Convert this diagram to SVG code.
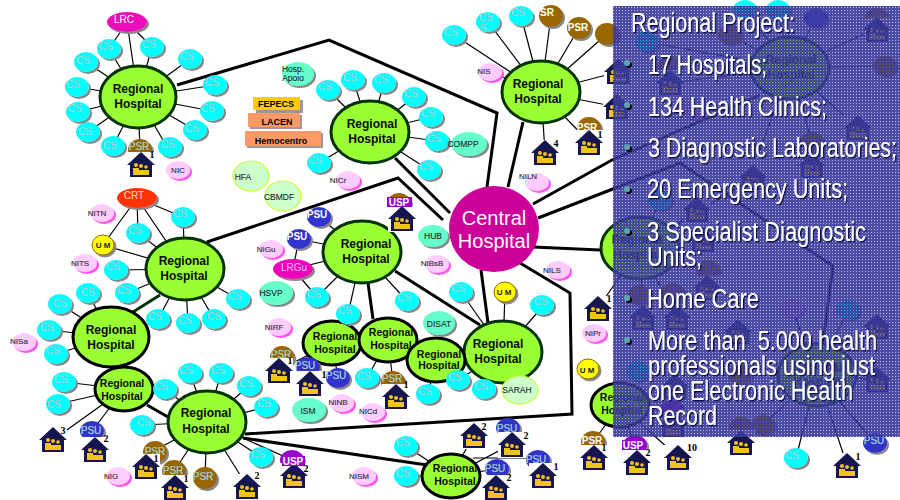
<svg xmlns="http://www.w3.org/2000/svg" width="900" height="500" viewBox="0 0 900 500">
<style>
text{font-family:"Liberation Sans",Arial,sans-serif;text-anchor:middle}
.th{fill:none;stroke:#000;stroke-width:3;stroke-linejoin:miter}
.tn{fill:none;stroke:#000;stroke-width:1.2}
.hub{fill:#99ff33;stroke:#063306;stroke-width:3}
.hubk{fill:#99ff33;stroke:#000;stroke-width:3}
.ht{font-weight:700;font-size:12px;fill:#0a0a0a}
.hs{font-weight:700;font-size:10.5px;fill:#0a0a0a}
.cs{fill:#00ffff;filter:url(#sh)}
.psu{fill:#3333cc;filter:url(#sh)}
.psr{fill:#996600;filter:url(#sh)}
.usp{fill:#9900cc;filter:url(#sh)}
.uspb{fill:#996600;filter:url(#sh)}
.lt{font-size:10px;fill:#c4f4f4;stroke:#6f9f9f;stroke-width:.25}
.wb{font-size:10px;font-weight:700;fill:#fff}
.ni{fill:#ffccff;filter:url(#shm)}
.nt{font-size:8px;fill:#333;stroke:#333;stroke-width:.15}
.te{fill:#66ffcc;filter:url(#sh)}
.tt{font-size:8.5px;fill:#223;stroke:#223;stroke-width:.1}
.gr{fill:#ccffcc;stroke:#ccff33;stroke-width:1.2}
.um{fill:#ffff00;stroke:#996600;stroke-width:1;filter:url(#sh)}
.umt{font-size:8px;font-weight:700;fill:#222}
.rt{font-size:9px;font-weight:700;fill:#000}
.num{font-family:"Liberation Serif",serif;font-size:10px;font-weight:700;fill:#000}
.pt{font-size:27px;fill:#fff;filter:url(#ps);text-anchor:start}
.bu{fill:#5aa6b0;filter:url(#pb)}
</style>
<defs>
<filter id="sh" x="-20%" y="-20%" width="150%" height="150%"><feDropShadow dx="2" dy="2" stdDeviation=".6" flood-color="#888"/></filter>
<filter id="shm" x="-20%" y="-20%" width="150%" height="150%"><feDropShadow dx="2" dy="2" stdDeviation=".2" flood-color="#ff55ee"/></filter>
<filter id="ps" x="-5%" y="-10%" width="115%" height="130%"><feDropShadow dx="1.3" dy="1.3" stdDeviation=".4" flood-color="#111144"/></filter>
<filter id="pb" x="-50%" y="-50%" width="250%" height="250%"><feDropShadow dx="2" dy="2" stdDeviation=".3" flood-color="#000"/></filter>
<pattern id="scr" width="3" height="3" patternUnits="userSpaceOnUse"><path d="M0 0H3V3H0ZM1 1V2H2V1Z" fill="#3a3a9c" fill-rule="evenodd"/></pattern>
<g id="house">
<rect x="-14" y="-13" width="28" height="26" fill="#fff"/>
<path d="M0-13L-14 0H-11V12H11V0H14Z" fill="#16164f"/>
<g fill="#f2c21e"><circle cx="-5" cy="0" r="2"/><circle cx="0" cy="1" r="2"/><circle cx="5" cy="2" r="1.8"/><path d="M-8 10V3H-2V5H3V5H8V10Z"/></g>
</g>
</defs>
<rect width="900" height="500" fill="#fff"/>
<g id="connectors">
<path class="th" d="M177 85L329 40L497 113L487 187"/>
<path class="th" d="M395 158L450 213"/>
<path class="th" d="M207 242L398 178L443 220"/>
<path class="th" d="M523 122L508 187"/>
<path class="th" d="M395 271L480 325"/>
<path class="th" d="M481 270L488 323"/>
<path class="th" d="M533 247L600 250"/>
<path class="th" d="M368 283L373 319"/>
<path class="th" d="M520 263L570 293L572 414L245 434"/>
<path class="th" d="M243 438L427 465"/>
<path class="th" d="M533 204L612 160L760 95"/>
<path class="th" d="M538 218L680 163L833 266L822 350"/>
<path class="th" style="stroke:#063306" d="M133 312L160 295"/>
<path class="th" d="M147 405L168 417"/>
<path class="tn" d="M138 97L127 22M127 22L109 49M127 22L152 47M138 97L109 49M138 97L152 47M138 97L190 59M138 97L215 85M138 97L212 111M138 97L195 130M138 97L167 147M138 97L140 150M138 97L113 146M138 97L88 132M138 97L78 112M138 97L77 87M138 97L86 62"/>
<path class="tn" d="M185 269L137 198M137 198L183 217M137 198L103 245M137 198L138 233M185 269L183 217M185 269L138 233M185 269L103 245M185 269L116 270M185 269L127 293M185 269L238 299M185 269L214 319M185 269L188 323M185 269L158 319"/>
<path class="tn" d="M111 337L88 293M111 337L60 304M111 337L49 330M111 337L56 354"/>
<path class="tn" d="M124 389L64 382M124 389L58 404M124 389L53 440M124 389L92 431"/>
<path class="tn" d="M207 422L142 425M207 422L165 389M207 422L190 373M207 422L221 373M207 422L249 386M207 422L266 407M207 422L261 457M207 422L152 452M207 422L174 471M207 422L205 478M207 422L292 460M207 422L247 486"/>
<path class="tn" d="M370 132L328 90M370 132L353 80M370 132L384 83M370 132L414 97M370 132L431 117M370 132L437 141M370 132L429 170M370 132L319 163"/>
<path class="tn" d="M362 252L319 217M362 252L299 239M362 252L293 269M299 239L293 269M293 269L317 297M362 252L317 297M362 252L348 314M362 252L407 301M362 252L402 218"/>
<path class="tn" d="M503 352L461 292M503 352L505 292M503 352L544 305M503 352L458 380M503 352L484 389"/>
<path class="tn" d="M332 343L279 370M332 343L338 378M388 340L367 378M388 340L393 382M436 360L428 394"/>
<path class="tn" d="M451 476L406 446M451 476L474 435M451 476L512 444M473 458H527M451 476L406 476M451 476L497 469"/>
<path class="tn" d="M541 92L454 35M541 92L488 22M541 92L521 16M541 92L551 16M541 92L579 28M541 92L607 34M541 92L490 72M541 92L618 72M541 92L617 107M541 92L545 152M541 92L589 142"/>
<path class="tn" d="M640 248L598 308M640 248L660 200M640 248L697 210M640 248L643 318M640 248L677 318M640 248L753 178M620 405L593 442M620 405L635 445M620 405L678 457"/>
<path class="tn" d="M790 68L745 10M790 68L778 10M790 68L816 18M790 68L877 28M790 68L885 66M790 68L858 128M790 68L812 142M790 68L760 150M790 68L647 42M790 68L730 35M790 68L670 83"/>
<path class="tn" d="M817 375L875 443M817 375L796 458M817 375L847 465M817 375L763 425M763 425L741 442M817 375L792 308M817 375L848 310M817 375L877 380"/>
</g>
<g id="underlay">
<g id="u1"><ellipse class="cs" cx="745" cy="10" rx="12" ry="10"/></g>
<g id="u2"><ellipse class="cs" cx="778" cy="10" rx="12" ry="10"/></g>
<g id="u3"><ellipse class="psu" cx="816" cy="18" rx="12" ry="10"/></g>
<g id="u4"><ellipse class="psr" cx="877" cy="18" rx="12" ry="10"/><use href="#house" x="877" y="30"/></g>
<g id="u5"><ellipse class="psr" cx="885" cy="66" rx="12" ry="10"/></g>
<g id="u6"><use href="#house" x="858" y="128"/></g>
<g id="u7"><ellipse class="psr" cx="812" cy="142" rx="12" ry="10"/><use href="#house" x="812" y="166"/></g>
<g id="u8"><ellipse class="cs" cx="647" cy="42" rx="12" ry="10"/></g>
<g id="u9"><ellipse class="psr" cx="730" cy="35" rx="12" ry="10"/></g>
<g id="u10"><ellipse class="psr" cx="670" cy="66" rx="12" ry="10"/><use href="#house" x="670" y="83"/></g>
<g id="u11"><ellipse class="ni" cx="693" cy="110" rx="12" ry="9"/></g>
<g id="u12"><ellipse class="cs" cx="660" cy="200" rx="12" ry="10"/></g>
<g id="u13"><use href="#house" x="697" y="210"/></g>
<g id="u14"><use href="#house" x="753" y="178"/></g>
<g id="u15"><use href="#house" x="703" y="240"/></g>
<g id="u16"><ellipse class="psr" cx="708" cy="270" rx="12" ry="10"/><use href="#house" x="707" y="288"/></g>
<g id="u17"><ellipse class="psr" cx="673" cy="293" rx="12" ry="10"/><use href="#house" x="677" y="318"/></g>
<g id="u18"><ellipse class="psr" cx="640" cy="295" rx="12" ry="10"/><use href="#house" x="643" y="318"/></g>
<g id="u19"><use href="#house" x="738" y="332"/></g>
<g id="u20"><ellipse class="ni" cx="792" cy="308" rx="12" ry="9"/></g>
<g id="u21"><ellipse class="cs" cx="848" cy="310" rx="12" ry="10"/></g>
<g id="u22"><use href="#house" x="877" y="327"/></g>
<g id="u23"><use href="#house" x="877" y="380"/></g>
<g id="u24"><ellipse class="cs" cx="638" cy="371" rx="12" ry="10"/></g>
<g id="u25"><use href="#house" x="675" y="387"/></g>
<g id="u26"><ellipse class="psr" cx="740" cy="375" rx="12" ry="10"/></g>
<g id="u27"><ellipse class="usp" cx="672" cy="410" rx="12" ry="10"/><use href="#house" x="673" y="425"/></g>
<g id="u28"><ellipse class="psr" cx="763" cy="425" rx="12" ry="10"/></g>
</g>
<g id="hosp1"><ellipse class="hub" cx="138" cy="97" rx="38" ry="31"/><text class="ht" x="138" y="93">Regional</text><text class="ht" x="138" y="108">Hospital</text></g>
<g id="hosp2"><ellipse class="hub" cx="185" cy="269" rx="39" ry="31"/><text class="ht" x="184" y="265">Regional</text><text class="ht" x="184" y="280">Hospital</text></g>
<g id="hosp3"><ellipse class="hubk" cx="111" cy="337" rx="38" ry="30"/><text class="ht" x="111" y="334">Regional</text><text class="ht" x="111" y="349">Hospital</text></g>
<g id="hosp4"><ellipse class="hubk" cx="124" cy="389" rx="29" ry="22"/><text class="hs" x="122" y="387">Regional</text><text class="hs" x="122" y="400">Hospital</text></g>
<g id="hosp5"><ellipse class="hub" cx="207" cy="422" rx="39" ry="31"/><text class="ht" x="206" y="417">Regional</text><text class="ht" x="206" y="433">Hospital</text></g>
<g id="hosp6"><ellipse class="hub" cx="370" cy="132" rx="39" ry="31"/><text class="ht" x="372" y="128">Regional</text><text class="ht" x="372" y="143">Hospital</text></g>
<g id="hosp7"><ellipse class="hub" cx="362" cy="252" rx="39" ry="31"/><text class="ht" x="366" y="248">Regional</text><text class="ht" x="366" y="263">Hospital</text></g>
<g id="hosp8"><ellipse class="hubk" cx="332" cy="343" rx="29" ry="22"/><text class="hs" x="335" y="340">Regional</text><text class="hs" x="335" y="353">Hospital</text></g>
<g id="hosp9"><ellipse class="hubk" cx="388" cy="340" rx="29" ry="22"/><text class="hs" x="391" y="336">Regional</text><text class="hs" x="391" y="349">Hospital</text></g>
<g id="hosp10"><ellipse class="hub" cx="503" cy="352" rx="39" ry="31"/><text class="ht" x="498" y="348">Regional</text><text class="ht" x="498" y="363">Hospital</text></g>
<g id="hosp11"><ellipse class="hubk" cx="436" cy="360" rx="29" ry="22"/><text class="hs" x="439" y="358">Regional</text><text class="hs" x="439" y="369">Hospital</text></g>
<g id="hosp12"><ellipse class="hubk" cx="451" cy="476" rx="29" ry="22"/><text class="hs" x="455" y="472">Regional</text><text class="hs" x="455" y="485">Hospital</text></g>
<g id="hosp13"><ellipse class="hub" cx="541" cy="92" rx="39" ry="31"/><text class="ht" x="538" y="88">Regional</text><text class="ht" x="538" y="103">Hospital</text></g>
<g id="hosp14"><ellipse class="hub" cx="640" cy="248" rx="39" ry="31"/><text class="ht" x="637" y="244">Regional</text><text class="ht" x="637" y="259">Hospital</text></g>
<g id="hosp15"><ellipse class="hubk" cx="620" cy="405" rx="29" ry="22"/><text class="hs" x="622" y="401">Regional</text><text class="hs" x="622" y="414">Hospital</text></g>
<g id="hosp16"><ellipse class="hub" cx="790" cy="68" rx="39" ry="31"/><text class="ht" x="791" y="64">Regional</text><text class="ht" x="791" y="79">Hospital</text></g>
<g id="hosp17"><ellipse class="hub" cx="817" cy="375" rx="39" ry="31"/><text class="ht" x="817" y="371">Regional</text><text class="ht" x="817" y="386">Hospital</text></g>
<g id="central"><ellipse cx="494" cy="229" rx="45" ry="43" fill="#cc0099"/><text x="494" y="225" font-size="20" fill="#fff">Central</text><text x="494" y="248" font-size="20" fill="#fff">Hospital</text></g>
<g id="cs-nodes">
<g id="c1"><ellipse class="cs" cx="109" cy="49" rx="12" ry="10"/><text class="lt" x="106" y="49.5">CS</text></g>
<g id="c2"><ellipse class="cs" cx="152" cy="47" rx="12" ry="10"/><text class="lt" x="149" y="47.5">CS</text></g>
<g id="c3"><ellipse class="cs" cx="190" cy="59" rx="12" ry="10"/><text class="lt" x="187" y="59.5">CS</text></g>
<g id="c4"><ellipse class="cs" cx="215" cy="85" rx="12" ry="10"/><text class="lt" x="212" y="85.5">CS</text></g>
<g id="c5"><ellipse class="cs" cx="212" cy="111" rx="12" ry="10"/><text class="lt" x="208" y="111.5">CS</text></g>
<g id="c6"><ellipse class="cs" cx="195" cy="130" rx="12" ry="10"/><text class="lt" x="192" y="132">CS</text></g>
<g id="c7"><ellipse class="cs" cx="170" cy="147" rx="12" ry="10"/><text class="lt" x="168" y="147.5">CS</text></g>
<g id="c8"><ellipse class="cs" cx="113" cy="146" rx="12" ry="10"/><text class="lt" x="110" y="149">CS</text></g>
<g id="c9"><ellipse class="cs" cx="88" cy="132" rx="12" ry="10"/><text class="lt" x="85" y="135">CS</text></g>
<g id="c10"><ellipse class="cs" cx="78" cy="112" rx="12" ry="10"/><text class="lt" x="75" y="112">CS</text></g>
<g id="c11"><ellipse class="cs" cx="77" cy="87" rx="12" ry="10"/><text class="lt" x="73" y="88">CS</text></g>
<g id="c12"><ellipse class="cs" cx="86" cy="62" rx="12" ry="10"/><text class="lt" x="83" y="64">CS</text></g>
<g id="c13"><ellipse class="cs" cx="183" cy="217" rx="12" ry="10"/><text class="lt" x="180" y="217">CS</text></g>
<g id="c14"><ellipse class="cs" cx="138" cy="233" rx="12" ry="10"/><text class="lt" x="135" y="234">CS</text></g>
<g id="c15"><ellipse class="cs" cx="116" cy="270" rx="12" ry="10"/><text class="lt" x="113" y="270">CS</text></g>
<g id="c16"><ellipse class="cs" cx="127" cy="293" rx="12" ry="10"/><text class="lt" x="124" y="293.5">CS</text></g>
<g id="c17"><ellipse class="cs" cx="238" cy="299" rx="12" ry="10"/><text class="lt" x="235" y="299.5">CS</text></g>
<g id="c18"><ellipse class="cs" cx="214" cy="319" rx="12" ry="10"/><text class="lt" x="214" y="319.5">CS</text></g>
<g id="c19"><ellipse class="cs" cx="188" cy="323" rx="12" ry="10"/><text class="lt" x="185" y="323.5">CS</text></g>
<g id="c20"><ellipse class="cs" cx="158" cy="319" rx="12" ry="10"/><text class="lt" x="155" y="319.5">CS</text></g>
<g id="c21"><ellipse class="cs" cx="88" cy="293" rx="12" ry="10"/><text class="lt" x="88" y="296">CS</text></g>
<g id="c22"><ellipse class="cs" cx="60" cy="304" rx="12" ry="10"/><text class="lt" x="60" y="307">CS</text></g>
<g id="c23"><ellipse class="cs" cx="49" cy="330" rx="12" ry="10"/><text class="lt" x="47" y="331">CS</text></g>
<g id="c24"><ellipse class="cs" cx="56" cy="354" rx="12" ry="10"/><text class="lt" x="53" y="354">CS</text></g>
<g id="c25"><ellipse class="cs" cx="64" cy="382" rx="12" ry="10"/><text class="lt" x="61" y="383">CS</text></g>
<g id="c26"><ellipse class="cs" cx="58" cy="404" rx="12" ry="10"/><text class="lt" x="54" y="408">CS</text></g>
<g id="c27"><ellipse class="cs" cx="165" cy="389" rx="12" ry="10"/><text class="lt" x="161" y="390">CS</text></g>
<g id="c28"><ellipse class="cs" cx="190" cy="373" rx="12" ry="10"/><text class="lt" x="186" y="374">CS</text></g>
<g id="c29"><ellipse class="cs" cx="221" cy="373" rx="12" ry="10"/><text class="lt" x="218" y="374">CS</text></g>
<g id="c30"><ellipse class="cs" cx="249" cy="386" rx="12" ry="10"/><text class="lt" x="246" y="387">CS</text></g>
<g id="c31"><ellipse class="cs" cx="266" cy="407" rx="12" ry="10"/><text class="lt" x="264" y="407">CS</text></g>
<g id="c32"><ellipse class="cs" cx="142" cy="425" rx="12" ry="10"/><text class="lt" x="144" y="426">CS</text></g>
<g id="c33"><ellipse class="cs" cx="261" cy="457" rx="12" ry="10"/><text class="lt" x="258" y="458">CS</text></g>
<g id="c34"><ellipse class="cs" cx="328" cy="90" rx="12" ry="10"/><text class="lt" x="325" y="90">CS</text></g>
<g id="c35"><ellipse class="cs" cx="353" cy="80" rx="12" ry="10"/><text class="lt" x="350" y="81">CS</text></g>
<g id="c36"><ellipse class="cs" cx="384" cy="83" rx="12" ry="10"/><text class="lt" x="381" y="83">CS</text></g>
<g id="c37"><ellipse class="cs" cx="414" cy="97" rx="12" ry="10"/><text class="lt" x="411" y="97">CS</text></g>
<g id="c38"><ellipse class="cs" cx="431" cy="117" rx="12" ry="10"/><text class="lt" x="428" y="117">CS</text></g>
<g id="c39"><ellipse class="cs" cx="437" cy="141" rx="12" ry="10"/><text class="lt" x="434" y="142">CS</text></g>
<g id="c40"><ellipse class="cs" cx="429" cy="170" rx="12" ry="10"/><text class="lt" x="426" y="170">CS</text></g>
<g id="c41"><ellipse class="cs" cx="319" cy="163" rx="12" ry="10"/><text class="lt" x="315" y="164">CS</text></g>
<g id="c42"><ellipse class="cs" cx="317" cy="297" rx="12" ry="10"/><text class="lt" x="314" y="297.500">CS</text></g>
<g id="c43"><ellipse class="cs" cx="348" cy="314" rx="12" ry="10"/><text class="lt" x="345" y="314">CS</text></g>
<g id="c44"><ellipse class="cs" cx="407" cy="301" rx="12" ry="10"/><text class="lt" x="404" y="301">CS</text></g>
<g id="c45"><ellipse class="cs" cx="461" cy="292" rx="12" ry="10"/><text class="lt" x="458" y="292">CS</text></g>
<g id="c46"><ellipse class="cs" cx="542" cy="305" rx="12" ry="10"/><text class="lt" x="541" y="305">CS</text></g>
<g id="c47"><ellipse class="cs" cx="458" cy="380" rx="12" ry="10"/><text class="lt" x="455" y="381">CS</text></g>
<g id="c48"><ellipse class="cs" cx="484" cy="389" rx="12" ry="10"/><text class="lt" x="481" y="390">CS</text></g>
<g id="c49"><ellipse class="cs" cx="428" cy="394" rx="12" ry="10"/><text class="lt" x="425" y="395">CS</text></g>
<g id="c50"><ellipse class="cs" cx="367" cy="378" rx="12" ry="10"/><text class="lt" x="364" y="380">CS</text></g>
<g id="c51"><ellipse class="cs" cx="406" cy="446" rx="12" ry="10"/><text class="lt" x="403" y="446">CS</text></g>
<g id="c52"><ellipse class="cs" cx="406" cy="476" rx="12" ry="10"/><text class="lt" x="403" y="477">CS</text></g>
<g id="c53"><ellipse class="cs" cx="454" cy="35" rx="12" ry="10"/><text class="lt" x="451" y="36">CS</text></g>
<g id="c54"><ellipse class="cs" cx="488" cy="22" rx="12" ry="10"/><text class="lt" x="486" y="21">CS</text><text class="lt" x="483" y="32">S</text></g>
<g id="c55"><ellipse class="cs" cx="521" cy="16" rx="12" ry="10"/><text class="lt" x="518" y="16">CS</text></g>
<g id="c57"><ellipse class="cs" cx="796" cy="458" rx="12" ry="10"/><text class="lt" x="792" y="459">CS</text></g>
</g>
<g id="psr-nodes">
<g id="p1"><ellipse class="psr" cx="140" cy="150" rx="12" ry="11"/><text class="lt" x="139" y="150">PSR</text><use href="#house" x="141" y="165"/><text class="num" x="152" y="158">1</text></g>
<g id="p2"><ellipse class="psr" cx="551" cy="16" rx="12" ry="11"/><text class="wb" x="547" y="16">SR</text></g>
<g id="p3"><ellipse class="psr" cx="579" cy="28" rx="12" ry="11"/><text class="wb" x="578" y="31">PSR</text></g>
<g id="p4"><ellipse class="psr" cx="607" cy="34" rx="12" ry="11"/></g>
<g id="p5"><ellipse class="psr" cx="589" cy="128" rx="12" ry="11"/><text class="wb" x="587" y="131">PSR</text><use href="#house" x="589" y="143"/><text class="num" x="600" y="138">1</text></g>
<g id="p6"><ellipse class="psr" cx="155" cy="452" rx="12" ry="11"/><text class="lt" x="155" y="455">PSR</text><use href="#house" x="146" y="467"/><text class="num" x="156" y="462">1</text></g>
<g id="p7"><ellipse class="psr" cx="174" cy="471" rx="12" ry="11"/><text class="lt" x="173" y="474">PSR</text><use href="#house" x="175" y="488"/><text class="num" x="186" y="482">1</text></g>
<g id="p8"><ellipse class="psr" cx="205" cy="478" rx="12" ry="11"/><text class="lt" x="203" y="480">PSR</text></g>
<g id="p9"><ellipse class="psr" cx="282" cy="357" rx="12" ry="11"/><text class="lt" x="281" y="358">PSR</text><use href="#house" x="279" y="371"/><text class="num" x="290" y="364">1</text></g>
<g id="p10"><ellipse class="psr" cx="393" cy="382" rx="12" ry="11"/><text class="lt" x="392" y="382">PSR</text><use href="#house" x="396" y="397"/><text class="num" x="406" y="388">1</text></g>
<g id="p11"><ellipse class="psr" cx="593" cy="442" rx="12" ry="11"/><text class="wb" x="592" y="444">PSR</text><use href="#house" x="594" y="458"/><text class="num" x="604" y="451">1</text></g>
<g id="p12"><ellipse class="psr" cx="741" cy="428" rx="12" ry="11"/><use href="#house" x="741" y="443"/></g>
</g>
<g id="psu-nodes">
<g id="s1"><ellipse class="psu" cx="319" cy="217" rx="12" ry="10"/><text class="wb" x="317" y="218">PSU</text></g>
<g id="s2"><ellipse class="psu" cx="299" cy="239" rx="12" ry="10"/><text class="wb" x="297" y="240">PSU</text></g>
<g id="s3"><ellipse class="psu" cx="92" cy="431" rx="12" ry="10"/><text class="lt" x="91" y="434">PSU</text><use href="#house" x="95" y="450"/><text class="num" x="106" y="442">2</text></g>
<g id="s4"><ellipse class="psu" cx="338" cy="378" rx="12" ry="10"/><text class="lt" x="336" y="379">PSU</text></g>
<g id="s5"><ellipse class="psu" cx="308" cy="367" rx="12" ry="10"/><text class="lt" x="305" y="369">PSU</text><use href="#house" x="310" y="384"/><text class="num" x="324" y="378">1</text></g>
<g id="s6"><ellipse class="psu" cx="508" cy="428" rx="12" ry="10"/><text class="lt" x="507" y="432">PSU</text><use href="#house" x="512" y="445"/><text class="num" x="526" y="439">2</text></g>
<g id="s7"><ellipse class="psu" cx="538" cy="460" rx="12" ry="10"/><text class="lt" x="536" y="463">PSU</text><use href="#house" x="543" y="476"/><text class="num" x="556" y="470">1</text></g>
<g id="s8"><ellipse class="psu" cx="497" cy="469" rx="12" ry="10"/><text class="lt" x="495" y="472">PSU</text><use href="#house" x="496" y="488"/><text class="num" x="509" y="481">2</text></g>
<g id="s9"><ellipse class="psu" cx="875" cy="443" rx="12" ry="10"/><text class="lt" x="874" y="444">PSU</text></g>
</g>
<g id="usp-nodes">
<g id="us1"><ellipse class="uspb" cx="399" cy="203" rx="12" ry="10"/><use href="#house" x="402" y="219"/><rect x="387" y="197" width="25" height="10" fill="#9900cc"/><text class="wb" x="399" y="206">USP</text></g>
<g id="us2"><ellipse class="usp" cx="292" cy="460" rx="12" ry="10"/><use href="#house" x="294" y="476"/><rect x="282" y="456" width="23" height="10" fill="#9900cc"/><text class="wb" x="293" y="465">USP</text><text class="num" x="306" y="472">2</text></g>
<g id="us3"><ellipse class="usp" cx="635" cy="445" rx="12" ry="10"/><use href="#house" x="637" y="463"/><rect x="622" y="440" width="23" height="10" fill="#9900cc"/><text class="wb" x="633" y="449">USP</text><text class="num" x="648" y="456">2</text></g>
</g>
<g id="houses">
<g id="h1"><use href="#house" x="53" y="440"/><text class="num" x="63" y="434">3</text></g>
<g id="h2"><use href="#house" x="247" y="487"/><text class="num" x="257" y="479">2</text></g>
<g id="h3"><use href="#house" x="474" y="436"/><text class="num" x="484" y="430">2</text></g>
<g id="h4"><use href="#house" x="545" y="153"/><text class="num" x="556" y="147">4</text></g>
<g id="h5"><use href="#house" x="618" y="72"/></g>
<g id="h6"><use href="#house" x="617" y="107"/></g>
<g id="h7"><use href="#house" x="598" y="309"/><text class="num" x="609" y="302">1</text></g>
<g id="h8"><use href="#house" x="678" y="458"/><text class="num" x="692" y="451">10</text></g>
<g id="h9"><use href="#house" x="847" y="466"/><text class="num" x="858" y="460">1</text></g>
</g>
<g id="lrc"><ellipse cx="127" cy="22" rx="20" ry="10" fill="#ee11bb" filter="url(#sh)"/><text x="124" y="23" font-size="10" fill="#fff">LRC</text></g>
<g id="crt"><ellipse cx="137" cy="198" rx="20" ry="10" fill="#ff3300" filter="url(#sh)"/><text x="134" y="199" font-size="10" fill="#ffdcdc">CRT</text></g>
<g id="lrgu"><ellipse cx="293" cy="269" rx="20" ry="10" fill="#ee00bb" filter="url(#sh)"/><text x="294" y="271" font-size="10" fill="#f8c0f0">LRGu</text></g>
<g id="um1"><ellipse class="um" cx="103" cy="245" rx="11" ry="10"/><text class="umt" x="103" y="248">U M</text></g>
<g id="um2"><ellipse class="um" cx="505" cy="292" rx="11" ry="10"/><text class="umt" x="504" y="295">U M</text></g>
<g id="um3"><ellipse class="um" cx="588" cy="369" rx="11" ry="10"/><text class="umt" x="587" y="373">U M</text></g>
<g id="ni-nodes">
<g id="n1"><ellipse class="ni" cx="178" cy="170" rx="12" ry="9"/><text class="nt" x="178" y="173">NIC</text></g>
<g id="n2"><ellipse class="ni" cx="102" cy="213" rx="12" ry="9"/><text class="nt" x="97" y="216">NITN</text></g>
<g id="n3"><ellipse class="ni" cx="85" cy="263" rx="12" ry="9"/><text class="nt" x="80" y="266">NITS</text></g>
<g id="n4"><ellipse class="ni" cx="24" cy="342" rx="12" ry="9"/><text class="nt" x="19" y="344">NISa</text></g>
<g id="n5"><ellipse class="ni" cx="118" cy="476" rx="12" ry="9"/><text class="nt" x="111" y="479">NIG</text></g>
<g id="n6"><ellipse class="ni" cx="348" cy="180" rx="12" ry="9"/><text class="nt" x="338" y="183">NICr</text></g>
<g id="n7"><ellipse class="ni" cx="271" cy="249" rx="12" ry="9"/><text class="nt" x="266" y="252">NIGu</text></g>
<g id="n8"><ellipse class="ni" cx="279" cy="327" rx="12" ry="9"/><text class="nt" x="274" y="330">NIRF</text></g>
<g id="n9"><ellipse class="ni" cx="437" cy="264" rx="12" ry="9"/><text class="nt" x="432" y="266">NIBsB</text></g>
<g id="n10"><ellipse class="ni" cx="342" cy="403" rx="12" ry="9"/><text class="nt" x="338" y="405">NINB</text></g>
<g id="n11"><ellipse class="ni" cx="373" cy="412" rx="12" ry="9"/><text class="nt" x="368" y="414">NICd</text></g>
<g id="n12"><ellipse class="ni" cx="364" cy="476" rx="12" ry="9"/><text class="nt" x="359" y="479">NISM</text></g>
<g id="n13"><ellipse class="ni" cx="490" cy="72" rx="12" ry="9"/><text class="nt" x="484" y="74">NIS</text></g>
<g id="n14"><ellipse class="ni" cx="537" cy="182" rx="12" ry="9"/><text class="nt" x="528" y="179">NILN</text></g>
<g id="n15"><ellipse class="ni" cx="558" cy="270" rx="12" ry="9"/><text class="nt" x="552" y="273">NILS</text></g>
<g id="n16"><ellipse class="ni" cx="594" cy="333" rx="12" ry="9"/><text class="nt" x="593" y="336">NIPr</text></g>
</g>
<g id="teal-nodes">
<g id="t1"><ellipse class="te" cx="298" cy="74" rx="16" ry="12"/><text class="tt" x="293" y="72">Hosp.</text><text class="tt" x="293" y="81">Apoio</text></g>
<g id="t2"><ellipse class="te" cx="469" cy="144" rx="18" ry="12"/><text class="tt" x="463" y="147">COMPP</text></g>
<g id="t3"><ellipse class="te" cx="433" cy="236" rx="15" ry="11"/><text class="tt" x="433" y="239">HUB</text></g>
<g id="t4"><ellipse class="te" cx="276" cy="293" rx="17" ry="12"/><text class="tt" x="271" y="296">HSVP</text></g>
<g id="t5"><ellipse class="te" cx="439" cy="323" rx="16" ry="12"/><text class="tt" x="439" y="327">DISAT</text></g>
<g id="t6"><ellipse class="te" cx="309" cy="410" rx="17" ry="12"/><text class="tt" x="308" y="414">ISM</text></g>
</g>
<g id="green-nodes">
<g id="g1"><ellipse class="gr" cx="251" cy="176" rx="18" ry="15"/><text class="tt" x="243" y="180">HFA</text></g>
<g id="g2"><ellipse class="gr" cx="283" cy="196" rx="18" ry="15"/><text class="tt" x="279" y="200">CBMDF</text></g>
<g id="g3"><ellipse class="gr" cx="520" cy="390" rx="18" ry="14"/><text class="tt" x="517" y="393">SARAH</text></g>
</g>
<g id="rects">
<g id="r1"><rect x="256" y="100" width="47" height="13" fill="#999"/><rect x="253" y="97" width="47" height="13" fill="#ffcc00"/><text class="rt" x="276" y="107">FEPECS</text></g>
<g id="r2"><rect x="250" y="115" width="52" height="14" fill="#999"/><rect x="248" y="113" width="52" height="14" fill="#ff9966"/><text class="rt" x="277" y="125">LACEN</text></g>
<g id="r3"><rect x="247" y="133" width="76" height="15" fill="#999"/><rect x="245" y="131" width="76" height="15" fill="#ff9966"/><text class="rt" x="281" y="144">Hemocentro</text></g>
</g>
<g id="panel">
<rect x="613" y="6" width="287" height="431" fill="#5050b0" fill-opacity=".4"/>
<rect x="613" y="6" width="287" height="431" fill="url(#scr)" fill-opacity=".85"/>
<ellipse class="bu" cx="627" cy="63" rx="3" ry="3"/><ellipse class="bu" cx="627" cy="105" rx="3" ry="3"/><ellipse class="bu" cx="627" cy="147" rx="3" ry="3"/><ellipse class="bu" cx="627" cy="189" rx="3" ry="3"/><ellipse class="bu" cx="627" cy="231" rx="3" ry="3"/><ellipse class="bu" cx="627" cy="298" rx="3" ry="3"/><ellipse class="bu" cx="627" cy="340" rx="3" ry="3"/>
<text class="pt" x="631" y="32" textLength="164" lengthAdjust="spacingAndGlyphs">Regional Project:</text>
<text class="pt" x="648" y="74" textLength="119" lengthAdjust="spacingAndGlyphs">17 Hospitals;</text>
<text class="pt" x="648" y="116" textLength="179" lengthAdjust="spacingAndGlyphs">134 Health Clinics;</text>
<text class="pt" x="648" y="157" textLength="249" lengthAdjust="spacingAndGlyphs">3 Diagnostic Laboratories;</text>
<text class="pt" x="647" y="198" textLength="201" lengthAdjust="spacingAndGlyphs">20 Emergency Units;</text>
<text class="pt" x="647" y="241" textLength="219" lengthAdjust="spacingAndGlyphs">3 Specialist Diagnostic</text>
<text class="pt" x="647" y="266" textLength="55" lengthAdjust="spacingAndGlyphs">Units;</text>
<text class="pt" x="647" y="308" textLength="112" lengthAdjust="spacingAndGlyphs">Home Care</text>
<text class="pt" x="648" y="350" textLength="229" lengthAdjust="spacingAndGlyphs" xml:space="preserve">More than  5.000 health</text>
<text class="pt" x="648" y="375" textLength="227" lengthAdjust="spacingAndGlyphs">professionals using just</text>
<text class="pt" x="648" y="400" textLength="205" lengthAdjust="spacingAndGlyphs">one Electronic Health</text>
<text class="pt" x="648" y="425" textLength="69" lengthAdjust="spacingAndGlyphs">Record</text>
</g>
</svg>
